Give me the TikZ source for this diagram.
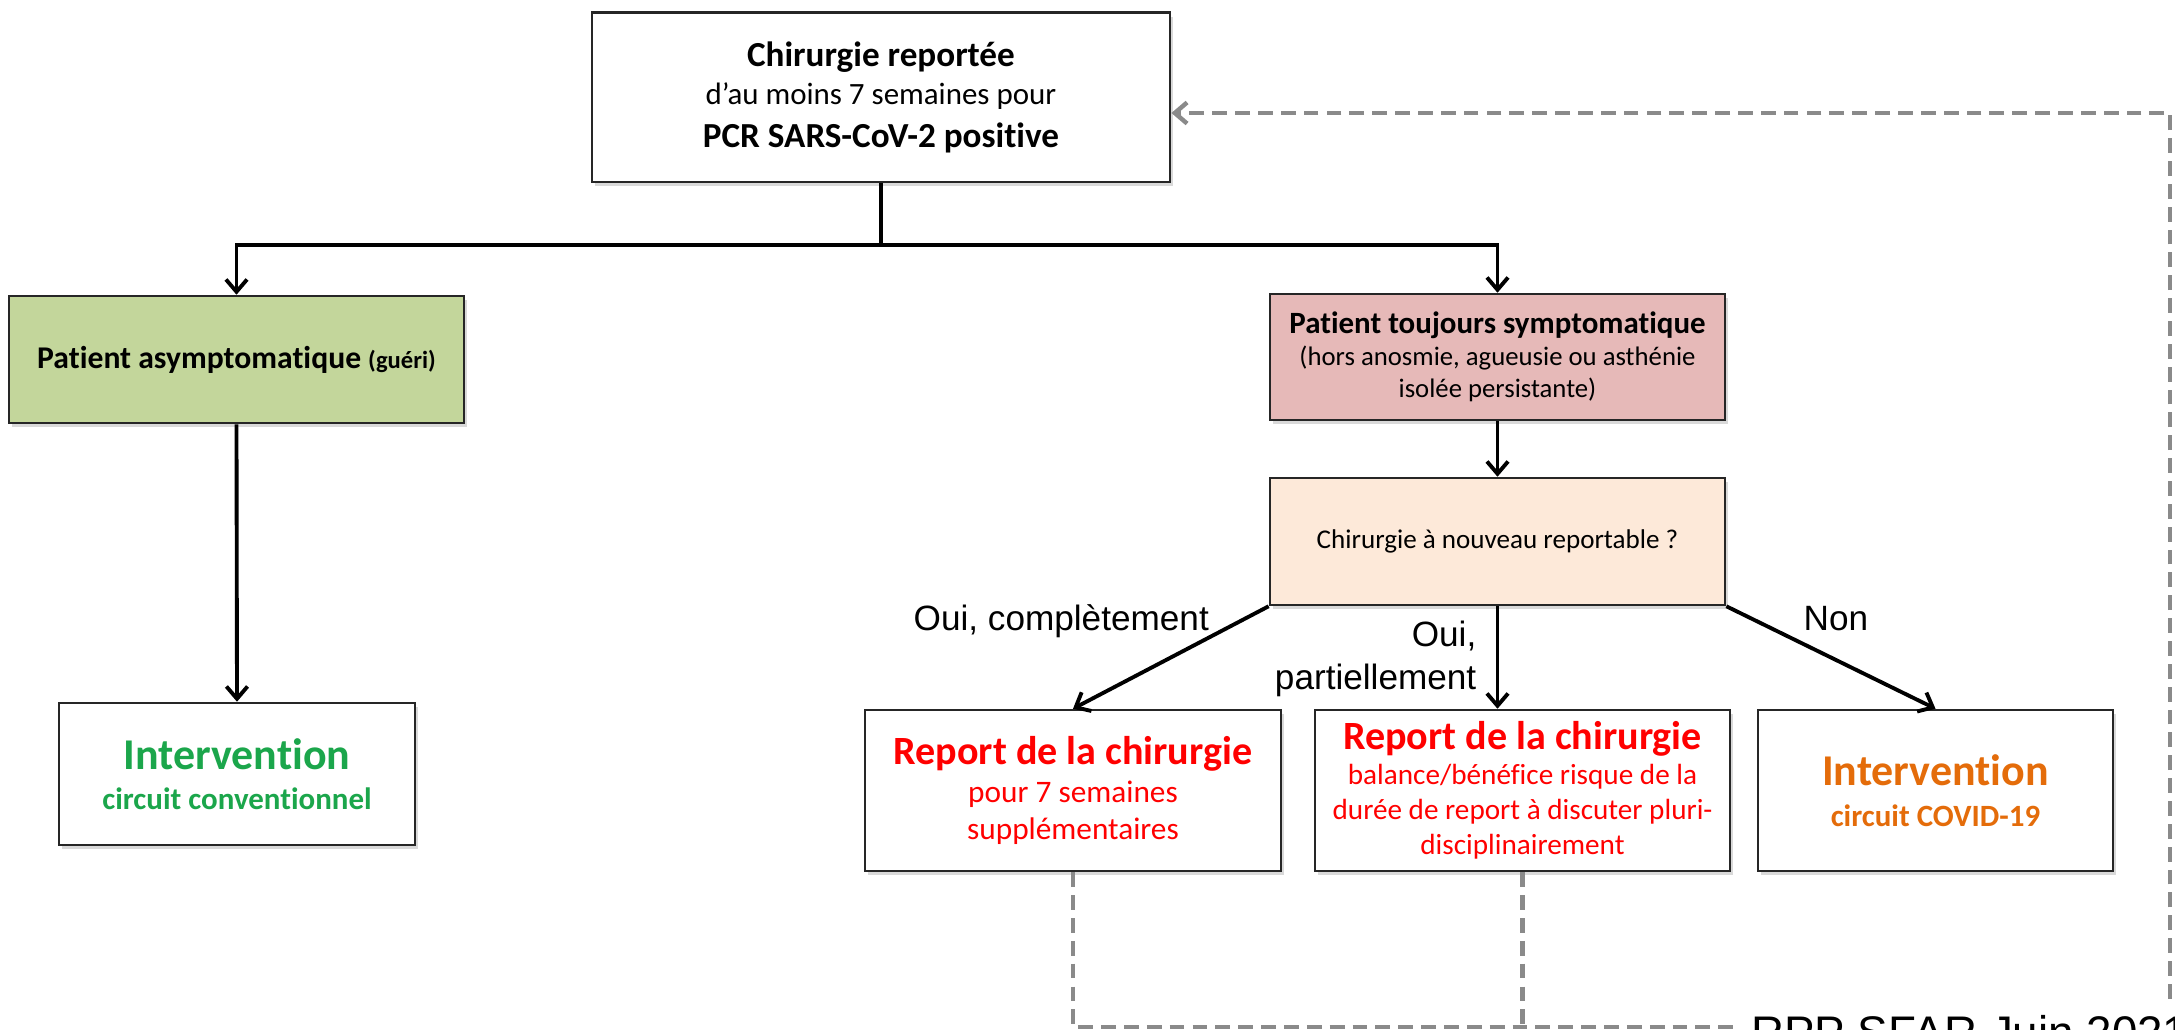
\documentclass[tikz,border=0pt]{standalone}
\usepackage{fontspec}
\setmainfont{Carlito}[Ligatures={NoCommon,NoContextual}, RawFeature={-liga;-clig;-calt;-dlig}]
\newfontfamily\arl{Liberation Sans}
\usetikzlibrary{arrows.meta,shadows}
\definecolor{gfill}{HTML}{C3D69B}
\definecolor{pfill}{HTML}{E6B9B8}
\definecolor{peach}{HTML}{FDE9D9}
\definecolor{gtext}{HTML}{1BA64B}
\definecolor{otext}{HTML}{E46C0A}
\definecolor{rtext}{HTML}{FF0000}
\definecolor{dgray}{HTML}{8A8A8A}
\begin{document}
\begin{tikzpicture}[x=0.01cm,y=-0.01cm,
  box/.style={draw=black!85, line width=0.7pt, fill=white, align=center, inner sep=0pt,
    drop shadow={shadow xshift=0.8pt, shadow yshift=-1.2pt, opacity=0.3}},
  arr/.style={line width=1.1pt, -{Straight Barb[length=3.5pt,width=6pt]}},
  fb/.style={draw=dgray, line width=1.25pt, dash pattern=on 4.2pt off 2.3pt},
  lbl/.style={font=\arl\fontsize{10}{12.2}\selectfont, inner sep=0pt},
]
\useasboundingbox (0,0) rectangle (2175,1030);
\clip (0,0) rectangle (2175,1030);

% boxes
\node[box, font=\bfseries\fontsize{10}{10.8}\selectfont, minimum width=5.78cm, minimum height=1.69cm] (top) at (881,97.2)
  {Chirurgie reportée\\
   {\mdseries\fontsize{8.8}{10.8}\selectfont d’au moins 7 semaines pour}\\[1.4pt]
   PCR SARS-CoV-2 positive};

\node[box, fill=gfill, font=\bfseries\fontsize{9}{11}\selectfont, minimum width=4.55cm, minimum height=1.27cm] (green) at (236.5,359.5)
  {Patient asymptomatique {\fontsize{7}{11}\selectfont(guéri)}};

\node[box, text=gtext, font=\bfseries\fontsize{8.8}{11.4}\selectfont, minimum width=3.56cm, minimum height=1.42cm] (interv) at (237,774)
  {{\fontsize{12.5}{11.4}\selectfont Intervention}\\
   circuit conventionnel};

\node[box, fill=pfill, font=\fontsize{7.6}{9.1}\selectfont, minimum width=4.55cm, minimum height=1.26cm] (pink) at (1497.5,357)
  {{\bfseries\fontsize{8.8}{9.1}\selectfont Patient toujours symptomatique}\\
   (hors anosmie, agueusie ou asthénie\\
   isolée persistante)};

\node[box, fill=peach, font=\fontsize{7.7}{9}\selectfont, minimum width=4.55cm, minimum height=1.27cm] (peach) at (1497.5,541.5)
  {Chirurgie à nouveau reportable ?};

\node[box, text=rtext, font=\fontsize{8.9}{10.7}\selectfont, minimum width=4.16cm, minimum height=1.61cm] (boxA) at (1073,790.5)
  {{\bfseries\fontsize{11.4}{10.7}\selectfont Report de la chirurgie}\\
   pour 7 semaines\\
   supplémentaires};

\node[box, text=rtext, font=\fontsize{8.3}{10}\selectfont, minimum width=4.15cm, minimum height=1.61cm] (boxB) at (1522.5,790.5)
  {{\bfseries\fontsize{11.4}{10}\selectfont Report de la chirurgie}\\
   balance/bénéfice risque de la\\
   durée de report à discuter pluri-\\
   disciplinairement};

\node[box, text=otext, font=\bfseries\fontsize{8.8}{11.7}\selectfont, minimum width=3.55cm, minimum height=1.61cm] (boxC) at (1935.5,790.5)
  {{\fontsize{12.5}{11.7}\selectfont Intervention}\\
   circuit COVID-19};

% tree connectors
\coordinate (jn) at (881,245);
\draw[arr] (top.south) -- (jn) -| (green.north);
\draw[arr] (jn) -| (pink.north);
\draw[arr] (green.south) -- (interv.north);
\draw[arr] (pink.south) -- (peach.north);
\draw[arr] (peach.south west) -- (boxA.north);
\draw[arr] (peach.south) -- (peach.south |- boxB.north);
\draw[arr] (peach.south east) -- (boxC.north);

% edge labels
\node[lbl, anchor=base west] (l1) at (913,630) {Oui, complètement};
\node[lbl, anchor=north east, align=right] (l2) at (1477,620) {Oui,\\partiellement};
\node[lbl, anchor=base west] (l3) at (1803,630) {Non};

% feedback dashed loop
\coordinate (bot) at (2170,1027);
\coordinate (topr) at (2170,113);
\draw[fb, -{Straight Barb[length=3.5pt,width=6pt]}] (boxA.south) |- (bot) -- (topr) -- (top.east |- topr);
\draw[fb] (boxB.south) -- (boxB.south |- bot);

\node[fill=white, inner sep=3pt, anchor=base west, font=\arl\fontsize{13}{15}\selectfont] (rpp) at (1740,1048) {RPP SFAR Juin 2021};
\end{tikzpicture}
\end{document}
